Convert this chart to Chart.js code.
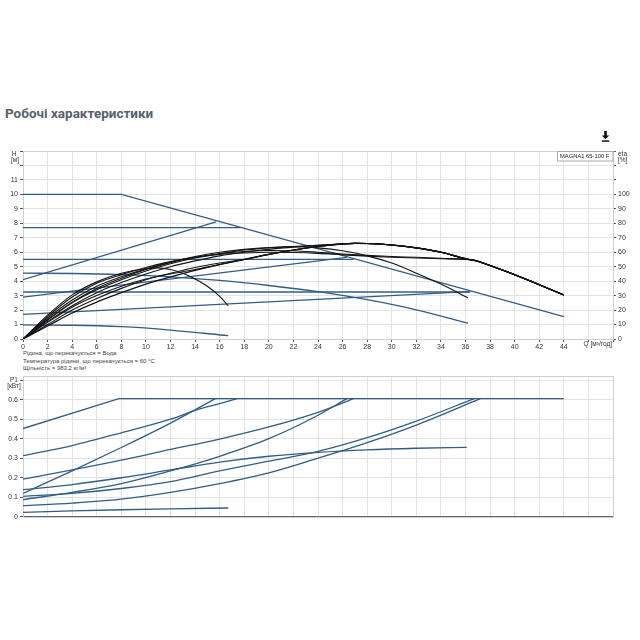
<!DOCTYPE html>
<html><head><meta charset="utf-8">
<script src="https://cdn.jsdelivr.net/npm/chart.js@4"></script>
<style>
body{margin:0;background:#fff;width:640px;height:640px;position:relative;overflow:hidden;font-family:"Liberation Sans",Arial,sans-serif;}
#title{position:absolute;left:5px;top:105px;font:bold 13.5px Roboto;color:#58616d;white-space:nowrap;}
#dl{position:absolute;left:601px;top:131px;}
#c1{position:absolute;left:0;top:140px;}
#c2{position:absolute;left:0;top:370px;}
.info{position:absolute;left:23px;font-size:6px;line-height:7.5px;color:#444;white-space:nowrap;}
</style></head>
<body>
<div id="title">Робочі характеристики</div>
<svg id="dl" width="9" height="11" viewBox="0 0 9 11"><path d="M3.2 0h2.6v4.5h2.4L4.5 8.3 0.8 4.5h2.4z" fill="#111"/><rect x="0.8" y="9.3" width="7.4" height="1.5" fill="#111"/></svg>
<canvas id="c1" width="640" height="210"></canvas>
<div class="info" style="top:350px">Рідина, що перекачується = Вода<br>Температура рідини, що перекачується = 60 °C<br>Щільність = 983.2 кг/м³</div>
<canvas id="c2" width="640" height="153"></canvas>
<script>
// ---- tick label limits ----
const qLabelMax = 44;
const hLabelMax = 11;
const etaLabelMax = 100;
const pLabelMax = 0.6;

// ---- head curves [Q m3/h, H m] ----
const hMax = [[0,10],[8,10],[44,1.55]];
const hConst77 = [[0,7.7],[17.7,7.7]];
const hProp41 = [[0,4.1],[15.7,8.1]];
const hConst55 = [[0,5.5],[26.9,5.5]];
const hProp29 = [[0,2.9],[26.35,5.64]];
const hCurve455 = [[0,4.55],[4,4.53],[8,4.45],[12,4.3],[16,4.05],[20,3.7],[24,3.27],[28,2.72],[32,2.02],[36.2,1.1]];
const hConst325 = [[0,3.25],[36.4,3.25]];
const hProp17 = [[0,1.7],[36.3,3.27]];
const hMin = [[0,0.97],[4,0.95],[8,0.85],[12,0.62],[16.7,0.23]];

// ---- efficiency curves [Q, eta %] ----
const etaMax = [[0,0],[2,9],[4,18],[6,25.5],[8,32],[10,38],[12,43],[14,47.5],[16,51.5],[18,55],[20,58.5],[22,61.5],[24,64],[26,65.8],[27,66.1],[28,66],[30,65],[32,63],[34,60],[36,55.5],[37,53.8],[38,50.8],[40,44.5],[42,37.5],[44,30.5]];
const eta77 = [[0,0],[2,10],[4,20],[6,28],[8,35],[10,41],[12,45.5],[14,49.5],[16,52.5],[17.7,54.6]];
const eta41 = [[0,0],[2,11.5],[4,22],[6,30],[8,36.5],[10,41.5],[12,45],[14,48],[15.7,51]];
const eta55 = [[0,0],[2,12],[4,23],[6,32],[8,39],[10,45],[12,50],[14,54],[16,57.5],[18,60],[20,62],[22,63.5],[24,64.8],[26,65.8],[26.9,66.1]];
const eta29 = [[0,0],[2,13],[4,25],[6,34],[8,41],[10,47],[12,52],[14,56],[16,59],[18,61.5],[20,63],[22,64],[24,64.8],[26.35,65.9]];
const eta455 = [[0,0],[2,13.5],[4,25.5],[6,35],[8,42],[10,48],[12,53],[14,57],[16,60],[18,62],[20,63.3],[22,63.8],[24,63],[26,61],[28,57.5],[30,52.5],[32,45.5],[34,38],[36.2,28.5]];
const eta325 = [[0,0],[2,14.5],[4,27],[6,36.5],[8,43],[10,48.5],[12,53],[14,56.5],[16,59],[18,60.5],[20,61.2],[22,61],[24,60],[26,58.8],[28,57.8],[30,57],[32,56.5],[34,55.8],[36.4,54.8]];
const eta17 = [[0,0],[2,15.5],[4,29],[6,38.5],[8,44.5],[10,49.5],[12,53.5],[14,56.5],[16,58.5],[18,59.5],[20,60],[22,59.8],[24,59.2],[26,58.2],[28,57.3],[30,56.5],[32,56],[34,55.5],[36.3,54.9]];
const etaMin = [[0,0],[2,16.5],[4,30.5],[6,39.5],[8,45.5],[10,48.8],[11,49.2],[12,48],[13,45.5],[14,41.5],[15,36.5],[16,29.5],[16.7,23]];

// ---- power curves [Q, P1 kW] ----
const pMax = [[0,0.452],[7.8,0.605],[44,0.605]];
const pConst77 = [[0,0.313],[4,0.365],[8,0.43],[12,0.5],[14,0.545],[16,0.58],[17.4,0.605]];
const pProp41 = [[0,0.12],[4,0.235],[8,0.355],[12,0.48],[15.65,0.605]];
const pConst55 = [[0,0.193],[4,0.24],[8,0.29],[12,0.345],[16,0.398],[20,0.46],[24,0.535],[26.9,0.605]];
const pProp29 = [[0,0.088],[4,0.125],[8,0.17],[12,0.235],[16,0.31],[20,0.4],[24,0.52],[26.35,0.605]];
const pCurve455 = [[0,0.139],[4,0.165],[8,0.2],[12,0.24],[16,0.28],[20,0.31],[24,0.33],[28,0.343],[32,0.351],[36.1,0.356]];
const pConst325 = [[0,0.105],[4,0.12],[8,0.145],[12,0.18],[16,0.235],[20,0.285],[24,0.335],[28,0.405],[32,0.49],[36.7,0.605]];
const pProp17 = [[0,0.057],[4,0.07],[8,0.09],[12,0.125],[16,0.17],[20,0.225],[24,0.3],[28,0.38],[32,0.47],[37.2,0.605]];
const pMin = [[0,0.023],[4,0.03],[8,0.036],[12,0.041],[16.7,0.045]];

const BLUE = '#325d86', BLACK = '#141414';
const pts = a => a.map(p => ({x:p[0], y:p[1]}));
const mergeMax = (own) => own.concat(etaMax.filter(p => p[0] > own[own.length-1][0]));

function lineDs(data, color, axis, curved, w) {
  return {data: pts(data), showLine:true, borderColor:color, borderWidth:w, pointRadius:0,
    yAxisID: axis, tension:0, cubicInterpolationMode: curved ? 'monotone' : 'default', fill:false};
}

const tickFont = {family:'Liberation Sans', size:7};
const GRID = '#e3e3e3';

const frame = {
  id:'frame',
  beforeDatasetsDraw(c){ const a=c.chartArea, x=c.ctx; x.save(); x.strokeStyle='#cfcfcf'; x.lineWidth=1;
    x.strokeRect(Math.round(a.left)+0.5, Math.round(a.top)+0.5, Math.round(a.width), Math.round(a.height)); x.restore(); }
};

const texts1 = {
  id:'texts1',
  afterDraw(c){ const a=c.chartArea, x=c.ctx; x.save(); x.font='6.5px "Liberation Sans"'; x.fillStyle='#333'; x.textBaseline='middle';
    x.textAlign='center'; x.fillText('H', a.left-9, a.top+3); x.fillText('[м]', a.left-8, a.top+9.5);
    x.textAlign='left'; x.fillText('eta', a.right+5, a.top+3); x.fillText('[%]', a.right+5, a.top+9.5);
    x.textAlign='right'; x.fillText('Q [м³/год]', a.right-1, a.bottom+5.5);
    // legend box
    x.fillStyle='#fff'; x.fillRect(a.right-56, a.top, 56, 9.5);
    x.strokeStyle='#aaa'; x.strokeRect(a.right-56+0.5, a.top+0.5, 55.5, 9.5);
    x.fillStyle='#222'; x.textAlign='left'; x.font='5.8px "Liberation Sans"'; x.fillText('MAGNA1 65-100 F', a.right-53, a.top+5.3);
    x.restore(); }
};
const texts2 = {
  id:'texts2',
  afterDraw(c){ const a=c.chartArea, x=c.ctx; x.save(); x.font='6.5px "Liberation Sans"'; x.fillStyle='#333'; x.textBaseline='middle';
    x.textAlign='center'; x.fillText('P1', a.left-9, a.top+4); x.fillText('[кВт]', a.left-9, a.top+10);
    x.restore(); }
};

const xScale = (labels) => ({
  type:'linear', min:0, max:48,
  ticks:{stepSize:2, font:tickFont, color:'#333', padding:1, maxRotation:0, autoSkip:false, display:labels,
    callback: v => v <= qLabelMax ? String(v) : ''},
  grid:{color:GRID, drawTicks:labels, tickLength:3, tickColor:'#555'},
  border:{color:'#666'},
  afterFit: s => { s.height = labels ? 11 : 5; }
});

new Chart(document.getElementById('c1'), {
  type:'scatter',
  data:{datasets:[
    lineDs(etaMax, BLACK, 'yEta', true, 1.3),
    lineDs(mergeMax(eta77), BLACK, 'yEta', true, 1.1),
    lineDs(mergeMax(eta41), BLACK, 'yEta', true, 1.1),
    lineDs(mergeMax(eta55), BLACK, 'yEta', true, 1.1),
    lineDs(mergeMax(eta29), BLACK, 'yEta', true, 1.1),
    lineDs(eta455, BLACK, 'yEta', true, 1.1),
    lineDs(mergeMax(eta325), BLACK, 'yEta', true, 1.1),
    lineDs(mergeMax(eta17), BLACK, 'yEta', true, 1.1),
    lineDs(etaMin, BLACK, 'yEta', true, 1.1),
    lineDs(hMax, BLUE, 'yH', false, 1.3),
    lineDs(hConst77, BLUE, 'yH', false, 1.3),
    lineDs(hProp41, BLUE, 'yH', false, 1.3),
    lineDs(hConst55, BLUE, 'yH', false, 1.3),
    lineDs(hProp29, BLUE, 'yH', false, 1.3),
    lineDs(hCurve455, BLUE, 'yH', true, 1.3),
    lineDs(hConst325, BLUE, 'yH', false, 1.3),
    lineDs(hProp17, BLUE, 'yH', false, 1.3),
    lineDs(hMin, BLUE, 'yH', true, 1.3)
  ]},
  options:{
    responsive:false, animation:false, events:[],
    layout:{padding:{top:11, left:0, right:0, bottom:0}},
    plugins:{legend:{display:false}, tooltip:{enabled:false}},
    scales:{
      x: xScale(true),
      yH:{type:'linear', position:'left', min:0, max:13,
        ticks:{stepSize:1, font:tickFont, color:'#333', padding:2, callback: v => v <= hLabelMax ? String(v) : ''},
        grid:{color:GRID, tickLength:3, tickColor:'#555'}, border:{color:'#666'},
        afterFit: s => { s.width = 23; }},
      yEta:{type:'linear', position:'right', min:0, max:130,
        ticks:{stepSize:10, font:tickFont, color:'#333', padding:2, callback: v => v <= etaLabelMax ? String(v) : ''},
        grid:{drawOnChartArea:false, tickLength:3, tickColor:'#555'}, border:{color:'#888'},
        afterFit: s => { s.width = 27; }}
    }
  },
  plugins:[frame, texts1]
});

new Chart(document.getElementById('c2'), {
  type:'scatter',
  data:{datasets:[
    lineDs(pMax, BLUE, 'yP', false, 1.3),
    lineDs(pConst77, BLUE, 'yP', true, 1.3),
    lineDs(pProp41, BLUE, 'yP', true, 1.3),
    lineDs(pConst55, BLUE, 'yP', true, 1.3),
    lineDs(pProp29, BLUE, 'yP', true, 1.3),
    lineDs(pCurve455, BLUE, 'yP', true, 1.3),
    lineDs(pConst325, BLUE, 'yP', true, 1.3),
    lineDs(pProp17, BLUE, 'yP', true, 1.3),
    lineDs(pMin, BLUE, 'yP', true, 1.3)
  ]},
  options:{
    responsive:false, animation:false, events:[],
    layout:{padding:{top:6, left:0, right:27, bottom:0}},
    plugins:{legend:{display:false}, tooltip:{enabled:false}},
    scales:{
      x: xScale(false),
      yP:{type:'linear', position:'left', min:0, max:0.72,
        ticks:{stepSize:0.1, includeBounds:false, font:tickFont, color:'#333', padding:2,
          callback: v => v > pLabelMax + 0.001 ? '' : (v === 0 ? '0' : v.toFixed(1))},
        grid:{color:GRID, tickLength:3, tickColor:'#555'}, border:{color:'#666'},
        afterFit: s => { s.width = 23; }}
    }
  },
  plugins:[frame, texts2]
});
</script>
</body></html>
